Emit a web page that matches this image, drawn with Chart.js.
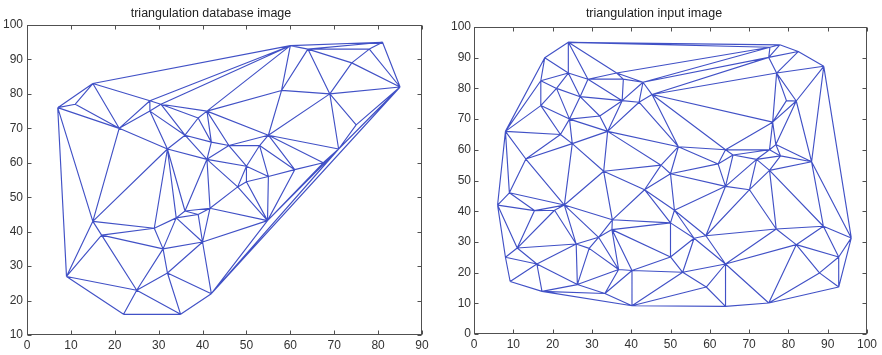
<!DOCTYPE html>
<html>
<head>
<meta charset="utf-8">
<script src="https://cdn.jsdelivr.net/npm/chart.js@4/dist/chart.umd.min.js"></script>
<style>
  html, body { margin: 0; padding: 0; background: #fff; }
  #wrap { position: relative; width: 882px; height: 355px; }
  canvas { position: absolute; top: 0; }
</style>
</head>
<body>
<div id="wrap">
  <canvas id="dbChart" width="441" height="355" style="left:0"></canvas>
  <canvas id="inChart" width="441" height="355" style="left:441px"></canvas>
</div>
<script>
// Feature points of the database image
const dbX = [7, 11, 15, 21, 28, 28, 30.5, 41, 39, 36, 42, 32, 41, 46, 53, 55, 50, 50, 48, 55,
             61, 67.5, 71, 75, 69, 85, 81, 78, 74, 64, 60, 58, 15, 17, 29, 34, 31, 39, 36, 41.7,
             40, 32, 25, 22, 35, 42, 9, 54.8];
const dbY = [76, 77, 83, 70, 78, 75, 77, 75, 73, 68, 66, 64, 61, 65, 65, 68, 59, 54.5, 53, 56,
             58, 60, 64, 71, 80, 82, 95, 93, 89, 93, 94, 81, 43, 39, 41, 44, 35, 45, 46, 46.8,
             37, 28, 23, 16, 16, 22, 27, 43.2];

// Feature points of the input image
const inX = [24, 18, 24, 17, 21, 29, 36.3, 38, 37.7, 43, 45.3, 27, 32, 34, 24.3, 17, 22, 25, 8, 13.2,
             33, 47.6, 52, 42, 6, 9, 15.4, 23, 20.5, 11, 26, 35.2, 31.7, 35.1, 8, 9.2, 16, 17.3, 26.3, 29.3,
             33.3, 36.8, 40.2, 40.2, 43.4, 50, 51, 50, 53.1, 56, 59, 59.1, 64, 64, 75, 76.9, 82, 88.9, 96, 92.8,
             92.8, 87.9, 75.2, 70.1, 64, 64, 62.1, 65.9, 71.9, 75.2, 76.8, 78, 85.9, 76, 79.5, 82, 77, 75, 75.3, 77.8,
             82.5, 89, 50];
const inY = [95, 90, 85, 82.5, 80, 83, 85, 83, 76, 82, 78, 77.3, 71, 66, 70, 74.4, 65, 62, 66, 57,
             53, 55, 61, 75.5, 42, 46, 40.2, 42, 40.3, 28, 29.3, 37.2, 31.5, 34, 25, 17.1, 22.8, 13.9, 16.1, 27.9,
             13.2, 21, 20.7, 9.2, 47, 36.2, 40.3, 25.1, 20.1, 31.2, 32, 15.3, 22.8, 9, 10.1, 34.2, 29.1, 35.1, 31.3, 25.1,
             15.3, 19.9, 53.3, 47, 48.1, 60, 55.4, 58.3, 56.9, 60, 61.7, 58, 56.1, 69, 76, 75.9, 85, 90.1, 93.4, 94.2,
             92, 87.2, 52.2];

// Axis tick values
const dbXTicks = [0, 10, 20, 30, 40, 50, 60, 70, 80, 90];
const dbYTicks = [10, 20, 30, 40, 50, 60, 70, 80, 90, 100];
const inXTicks = [0, 10, 20, 30, 40, 50, 60, 70, 80, 90, 100];
const inYTicks = [0, 10, 20, 30, 40, 50, 60, 70, 80, 90, 100];

// Delaunay triangulation (empty circumcircle test) -> unique edge list
function delaunayEdges(xs, ys) {
  const n = xs.length;
  const edges = new Map();
  const add = (p, q) => {
    const a = Math.min(p, q), b = Math.max(p, q);
    edges.set(a + '-' + b, [a, b]);
  };
  for (let i = 0; i < n; i++) {
    for (let j = i + 1; j < n; j++) {
      for (let k = j + 1; k < n; k++) {
        let ax = xs[i], ay = ys[i], bx = xs[j], by = ys[j], cx = xs[k], cy = ys[k];
        const o = (bx - ax) * (cy - ay) - (by - ay) * (cx - ax);
        if (Math.abs(o) < 1e-9) continue;
        if (o < 0) { let t = bx; bx = cx; cx = t; t = by; by = cy; cy = t; }
        let empty = true;
        for (let m = 0; m < n; m++) {
          if (m === i || m === j || m === k) continue;
          const adx = ax - xs[m], ady = ay - ys[m];
          const bdx = bx - xs[m], bdy = by - ys[m];
          const cdx = cx - xs[m], cdy = cy - ys[m];
          const det = (adx * adx + ady * ady) * (bdx * cdy - cdx * bdy)
                    - (bdx * bdx + bdy * bdy) * (adx * cdy - cdx * ady)
                    + (cdx * cdx + cdy * cdy) * (adx * bdy - bdx * ady);
          if (det > 1e-9) { empty = false; break; }
        }
        if (empty) { add(i, j); add(j, k); add(i, k); }
      }
    }
  }
  return [...edges.values()];
}

// Axes box with inward ticks on all four sides
const boxPlugin = {
  id: 'box',
  afterDraw(chart) {
    const { ctx, chartArea: a, scales: { x, y } } = chart;
    const L = Math.round(a.left) + 0.5, R = Math.round(a.right) - 0.5;
    const T = Math.round(a.top) + 0.5, B = Math.round(a.bottom) - 0.5;
    const tl = 4;
    ctx.save();
    ctx.strokeStyle = '#505050';
    ctx.lineWidth = 1;
    ctx.strokeRect(L, T, R - L, B - T);
    ctx.beginPath();
    x.ticks.forEach(t => {
      const px = Math.round(x.getPixelForValue(t.value)) + 0.5;
      ctx.moveTo(px, B); ctx.lineTo(px, B - tl);
      ctx.moveTo(px, T); ctx.lineTo(px, T + tl);
    });
    y.ticks.forEach(t => {
      const py = Math.round(y.getPixelForValue(t.value)) + 0.5;
      ctx.moveTo(L, py); ctx.lineTo(L + tl, py);
      ctx.moveTo(R, py); ctx.lineTo(R - tl, py);
    });
    ctx.stroke();
    ctx.restore();
  }
};

const FONT = 'Arial, "Liberation Sans", sans-serif';

function drawMesh(id, xs, ys, cfg) {
  const segs = [];
  delaunayEdges(xs, ys).forEach(([a, b]) => {
    segs.push({ x: xs[a], y: ys[a] }, { x: xs[b], y: ys[b] }, { x: xs[b], y: null });
  });
  new Chart(document.getElementById(id), {
    type: 'scatter',
    data: {
      datasets: [{
        data: segs,
        showLine: true,
        spanGaps: false,
        borderColor: '#4151c6',
        borderWidth: 1.15,
        pointRadius: 0,
        pointHoverRadius: 0,
        fill: false
      }]
    },
    options: {
      responsive: false,
      animation: false,
      devicePixelRatio: 1,
      events: [],
      layout: { padding: { left: 0, right: cfg.padRight, top: 0, bottom: 0 } },
      plugins: {
        legend: { display: false },
        tooltip: { enabled: false },
        title: {
          display: true,
          text: cfg.title,
          color: '#222',
          font: { family: FONT, size: 12.5, weight: 'normal', lineHeight: 1.2 },
          padding: { top: 5.8, bottom: cfg.titleBottom }
        }
      },
      scales: {
        x: {
          type: 'linear',
          min: cfg.xTicks[0],
          max: cfg.xTicks[cfg.xTicks.length - 1],
          grid: { display: false, drawTicks: false },
          border: { display: false },
          ticks: { color: '#333', font: { family: FONT, size: 12 }, padding: 3, autoSkip: false, maxRotation: 0 },
          afterBuildTicks: s => { s.ticks = cfg.xTicks.map(v => ({ value: v })); },
          afterFit: s => { s.height = cfg.xHeight; s.paddingLeft = 0; s.paddingRight = 0; }
        },
        y: {
          type: 'linear',
          min: cfg.yTicks[0],
          max: cfg.yTicks[cfg.yTicks.length - 1],
          grid: { display: false, drawTicks: false },
          border: { display: false },
          ticks: { color: '#333', font: { family: FONT, size: 12 }, padding: cfg.yPad, autoSkip: false },
          afterBuildTicks: s => { s.ticks = cfg.yTicks.map(v => ({ value: v })); },
          afterFit: s => { s.width = cfg.yWidth; s.paddingTop = 0; s.paddingBottom = 0; }
        }
      }
    },
    plugins: [boxPlugin]
  });
}

drawMesh('dbChart', dbX, dbY, {
  title: 'triangulation database image',
  xTicks: dbXTicks, yTicks: dbYTicks,
  padRight: 19, titleBottom: 4.2, xHeight: 20, yWidth: 27, yPad: 4
});

drawMesh('inChart', inX, inY, {
  title: 'triangulation input image',
  xTicks: inXTicks, yTicks: inYTicks,
  padRight: 15, titleBottom: 6.2, xHeight: 21, yWidth: 33, yPad: 3
});
</script>
</body>
</html>
